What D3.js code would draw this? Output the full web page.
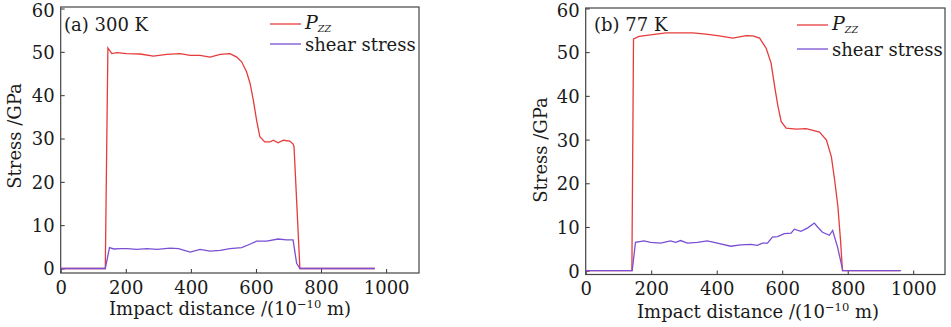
<!DOCTYPE html>
<html><head><meta charset="utf-8">
<script src="https://cdn.jsdelivr.net/npm/d3@7"></script>
<style>
body{margin:0;background:#fff;}
svg{display:block;}
text{font-family:"DejaVu Serif",serif;fill:#1a1a1a;}
</style></head>
<body>
<svg id="c" width="951" height="327"></svg>
<script>
// ---- data ----
const xTicks = [0, 200, 400, 600, 800, 1000];
const yTicks = [0, 10, 20, 30, 40, 50, 60];
const panelTitles = ["(a) 300 K", "(b) 77 K"];
const seriesNames = ["P", "shear stress"];

const pzz300 = [[0,0],[137,0],[145,50.9],[157,49.6],[173,49.8],[203,49.6],[244,49.5],[285,49.0],[326,49.4],[367,49.6],[398,49.2],[428,49.2],[459,48.8],[490,49.4],[520,49.6],[541,48.8],[556,47.7],[571,45.4],[582,42.7],[592,38.8],[602,34.2],[612,30.4],[627,29.2],[643,29.2],[653,29.6],[668,29.0],[684,29.6],[704,29.4],[714,28.7],[717,28.1],[735,0],[965,0]];
const shear300 = [[0,0],[137,0],[150,4.8],[163,4.5],[185,4.6],[204,4.6],[234,4.4],[265,4.6],[296,4.4],[336,4.7],[362,4.6],[398,3.8],[428,4.4],[459,4.0],[490,4.2],[520,4.6],[556,4.8],[581,5.6],[602,6.3],[633,6.3],[668,6.8],[694,6.6],[714,6.6],[725,1.2],[735,0],[965,0]];
const pzz77 = [[0,0],[141,0],[146,53.0],[163,53.6],[204,54.0],[245,54.4],[286,54.4],[327,54.4],[367,54.1],[408,53.7],[449,53.2],[490,53.8],[510,53.7],[531,53.2],[551,50.9],[566,47.5],[577,42.1],[587,37.6],[597,34.1],[612,32.6],[643,32.4],[673,32.5],[694,32.1],[714,31.7],[735,29.9],[750,26.1],[760,20.8],[770,14.7],[778,7.0],[784,0],[959,0]];
const shear77 = [[0,0],[142,0],[152,6.5],[178,6.8],[198,6.5],[229,6.3],[259,6.8],[274,6.5],[290,6.9],[310,6.3],[341,6.5],[371,6.8],[402,6.3],[443,5.6],[473,5.9],[504,6.0],[524,5.8],[540,6.3],[555,6.3],[570,7.7],[586,7.8],[606,8.5],[627,8.6],[637,9.5],[657,9.0],[678,9.8],[698,10.9],[708,10.0],[723,8.8],[744,8.1],[754,9.2],[769,5.4],[785,0],[963,0]];

const panels = [
  {title: panelTitles[0], pzz: pzz300, shear: shear300,
   box: {x0: 60.7, x1: 419, y0: 7, y1: 273}, xd: [0, 1101], yd: [-1.04, 60.35],
   title_xy: [64, 31], leg: {x: 270, y1: 24, y2: 44}, ylab: [15, 136], xlab: [230, 315]},
  {title: panelTitles[1], pzz: pzz77, shear: shear77,
   box: {x0: 585.7, x1: 945, y0: 8, y1: 274.5}, xd: [0, 1097], yd: [-0.87, 60.1],
   title_xy: [594, 31], leg: {x: 797, y1: 25, y2: 49}, ylab: [541, 150], xlab: [758, 318]}
];
const colors = ["#e63b3b", "#7a4fd3"];

const svg = d3.select("#c");

panels.forEach(p => {
  const g = svg.append("g");
  const x = d3.scaleLinear().domain(p.xd).range([p.box.x0, p.box.x1]);
  const y = d3.scaleLinear().domain(p.yd).range([p.box.y1, p.box.y0]);

  // axes (ticks inward)
  const xa = g.append("g").attr("transform", `translate(0,${p.box.y1})`)
    .call(d3.axisBottom(x).tickValues(xTicks).tickFormat(d3.format("d")).tickSizeInner(-4).tickSizeOuter(0).tickPadding(8));
  const ya = g.append("g").attr("transform", `translate(${p.box.x0},0)`)
    .call(d3.axisLeft(y).tickValues(yTicks).tickFormat(d3.format("d")).tickSizeInner(-4).tickSizeOuter(0).tickPadding(6));
  [xa, ya].forEach(a => {
    a.selectAll("path").remove();
    a.selectAll("line").attr("stroke", "#333");
    a.selectAll("text").style("font-family", '"DejaVu Serif",serif').style("font-size", "18px").attr("fill", "#1a1a1a");
  });
  ya.selectAll("text").attr("dy", d => d === 60 ? "0.47em" : "0.36em");
  xa.selectAll("text").attr("dy", "0.72em");

  // frame
  g.append("rect").attr("x", p.box.x0).attr("y", p.box.y0)
    .attr("width", p.box.x1 - p.box.x0).attr("height", p.box.y1 - p.box.y0)
    .attr("fill", "none").attr("stroke", "#444").attr("stroke-width", 1.2);

  const line = d3.line().x(d => x(d[0])).y(d => y(d[1]));
  g.append("path").datum(p.pzz).attr("d", line).attr("fill", "none").attr("stroke", colors[0]).attr("stroke-width", 1.3);
  g.append("path").datum(p.shear).attr("d", line).attr("fill", "none").attr("stroke", colors[1]).attr("stroke-width", 1.3);

  // title
  g.append("text").attr("x", p.title_xy[0]).attr("y", p.title_xy[1]).style("font-size", "18px").text(p.title);

  // legend
  const L = p.leg;
  g.append("line").attr("x1", L.x).attr("x2", L.x + 31).attr("y1", L.y1).attr("y2", L.y1).attr("stroke", colors[0]).attr("stroke-width", 1.3);
  g.append("line").attr("x1", L.x).attr("x2", L.x + 31).attr("y1", L.y2).attr("y2", L.y2).attr("stroke", colors[1]).attr("stroke-width", 1.3);
  const t1 = g.append("text").attr("x", L.x + 35).attr("y", L.y1 + 5).style("font-size", "19px").style("font-style", "italic");
  t1.append("tspan").text(seriesNames[0]);
  t1.append("tspan").attr("dy", 3).style("font-size", "9.5px").text("ZZ");
  g.append("text").attr("x", L.x + 35).attr("y", L.y2 + 7).style("font-size", "18px").text(seriesNames[1]);

  // axis labels
  g.append("text").attr("transform", `translate(${p.ylab[0]},${p.ylab[1]}) rotate(-90)`)
    .attr("text-anchor", "middle").attr("dy", "0.35em").style("font-size", "18px").text("Stress /GPa");
  const xl = g.append("text").attr("x", p.xlab[0]).attr("y", p.xlab[1]).attr("text-anchor", "middle").style("font-size", "18px");
  xl.append("tspan").text("Impact distance /(10");
  xl.append("tspan").attr("dy", -7).style("font-size", "11.5px").text("\u221210");
  xl.append("tspan").attr("dy", 7).text(" m)");
});
</script>
</body></html>
